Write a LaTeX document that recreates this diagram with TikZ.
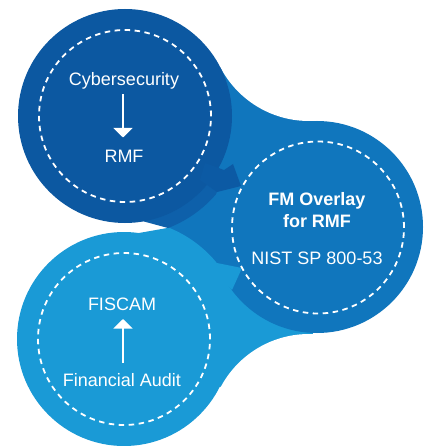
\documentclass[tikz,border=0pt]{standalone}
\usepackage{fontspec}
\setmainfont{Liberation Sans}
\usetikzlibrary{arrows.meta}
\definecolor{cdark}{RGB}{12,88,161}
\definecolor{cdarkband}{RGB}{14,96,170}
\definecolor{cdarkhead}{RGB}{12,90,164}
\definecolor{cmed}{RGB}{16,118,189}
\definecolor{clight}{RGB}{26,154,214}
\begin{document}
\begin{tikzpicture}[x=1pt,y=-1pt,
  lbl/.style={text=white, anchor=base, inner sep=0pt, font=\fontsize{18}{21}\selectfont},
  blbl/.style={text=white, anchor=base, inner sep=0pt, font=\fontsize{18}{21}\selectfont\bfseries},
  ring/.style={draw=white, line width=1.8pt, dash pattern=on 5.5pt off 4.5pt},
  flowarrow/.style={draw=white, line width=2pt, -{Triangle[width=19pt,length=9.5pt]}}]
\useasboundingbox (0,0) rectangle (427,446);
\fill[white] (0,0) rectangle (427,446);
% centres
\coordinate (D) at (125,116);
\coordinate (R) at (317,227);
\coordinate (L) at (124,339);
% medium body between the circles
\fill[cmed] (D) -- (220.1,66.9) -- (312.9,121.1) -- (R) -- (L) -- (168,228) -- cycle;
\fill[white] (309,21) circle[radius=100pt];
% light fillet to the right circle
\fill[clight] (L) -- (220.1,387.1) -- (312.9,333.9) -- (R) -- cycle;
\fill[white] (309,434) circle[radius=100pt];
% light band and circle
\fill[clight] (L) -- (138.9,233.0) -- (169,227.7)
  -- plot[domain=68:39, samples=25, variable=\t] ({124+120*cos(\t)},{339-120*sin(\t)}) -- cycle;
\fill[clight] (L) circle[radius=107pt];
% dark band and circle
\fill[cdarkband] (D) -- (143.6,221.4) -- (168,228)
  -- plot[domain=69:39, samples=25, variable=\t] ({125+120*cos(\t)},{116+120*sin(\t)}) -- cycle;
\fill[cdark] (D) circle[radius=107pt];
% right circle
\fill[cmed] (R) circle[radius=106pt];
% arrowheads
\fill[cdarkhead] (200,180) -- (217,192) -- (241,186) -- (233,164) -- (224,170) -- (205,163) -- cycle;
\fill[clight] (200,275) -- (217,263) -- (242,268) -- (232,290) -- (225,283) -- (205,292) -- cycle;
% dashed rings
\draw[ring] (D) circle[radius=86pt];
\draw[ring] (318,227.5) circle[radius=86pt];
\draw[ring] (L) circle[radius=86pt];
% texts
\node[lbl] (cyber) at (124,86) {Cybersecurity};
\node[lbl] (rmf) at (124,163) {RMF};
\node[blbl] (fm) at (317,205) {FM Overlay};
\node[blbl] (forrmf) at (317,227) {for RMF};
\node[lbl] (nist) at (317,264) {NIST SP 800-53};
\node[lbl] (fiscam) at (122,310) {FISCAM};
\node[lbl] (fa) at (122,386) {Financial Audit};
% inner arrows
\coordinate (d1) at (123,94.5);
\coordinate (d2) at (123,137.5);
\coordinate (u1) at (123,363);
\coordinate (u2) at (123,319);
\draw[flowarrow] (d1) -- (d2);
\draw[flowarrow] (u1) -- (u2);
\end{tikzpicture}
\end{document}
